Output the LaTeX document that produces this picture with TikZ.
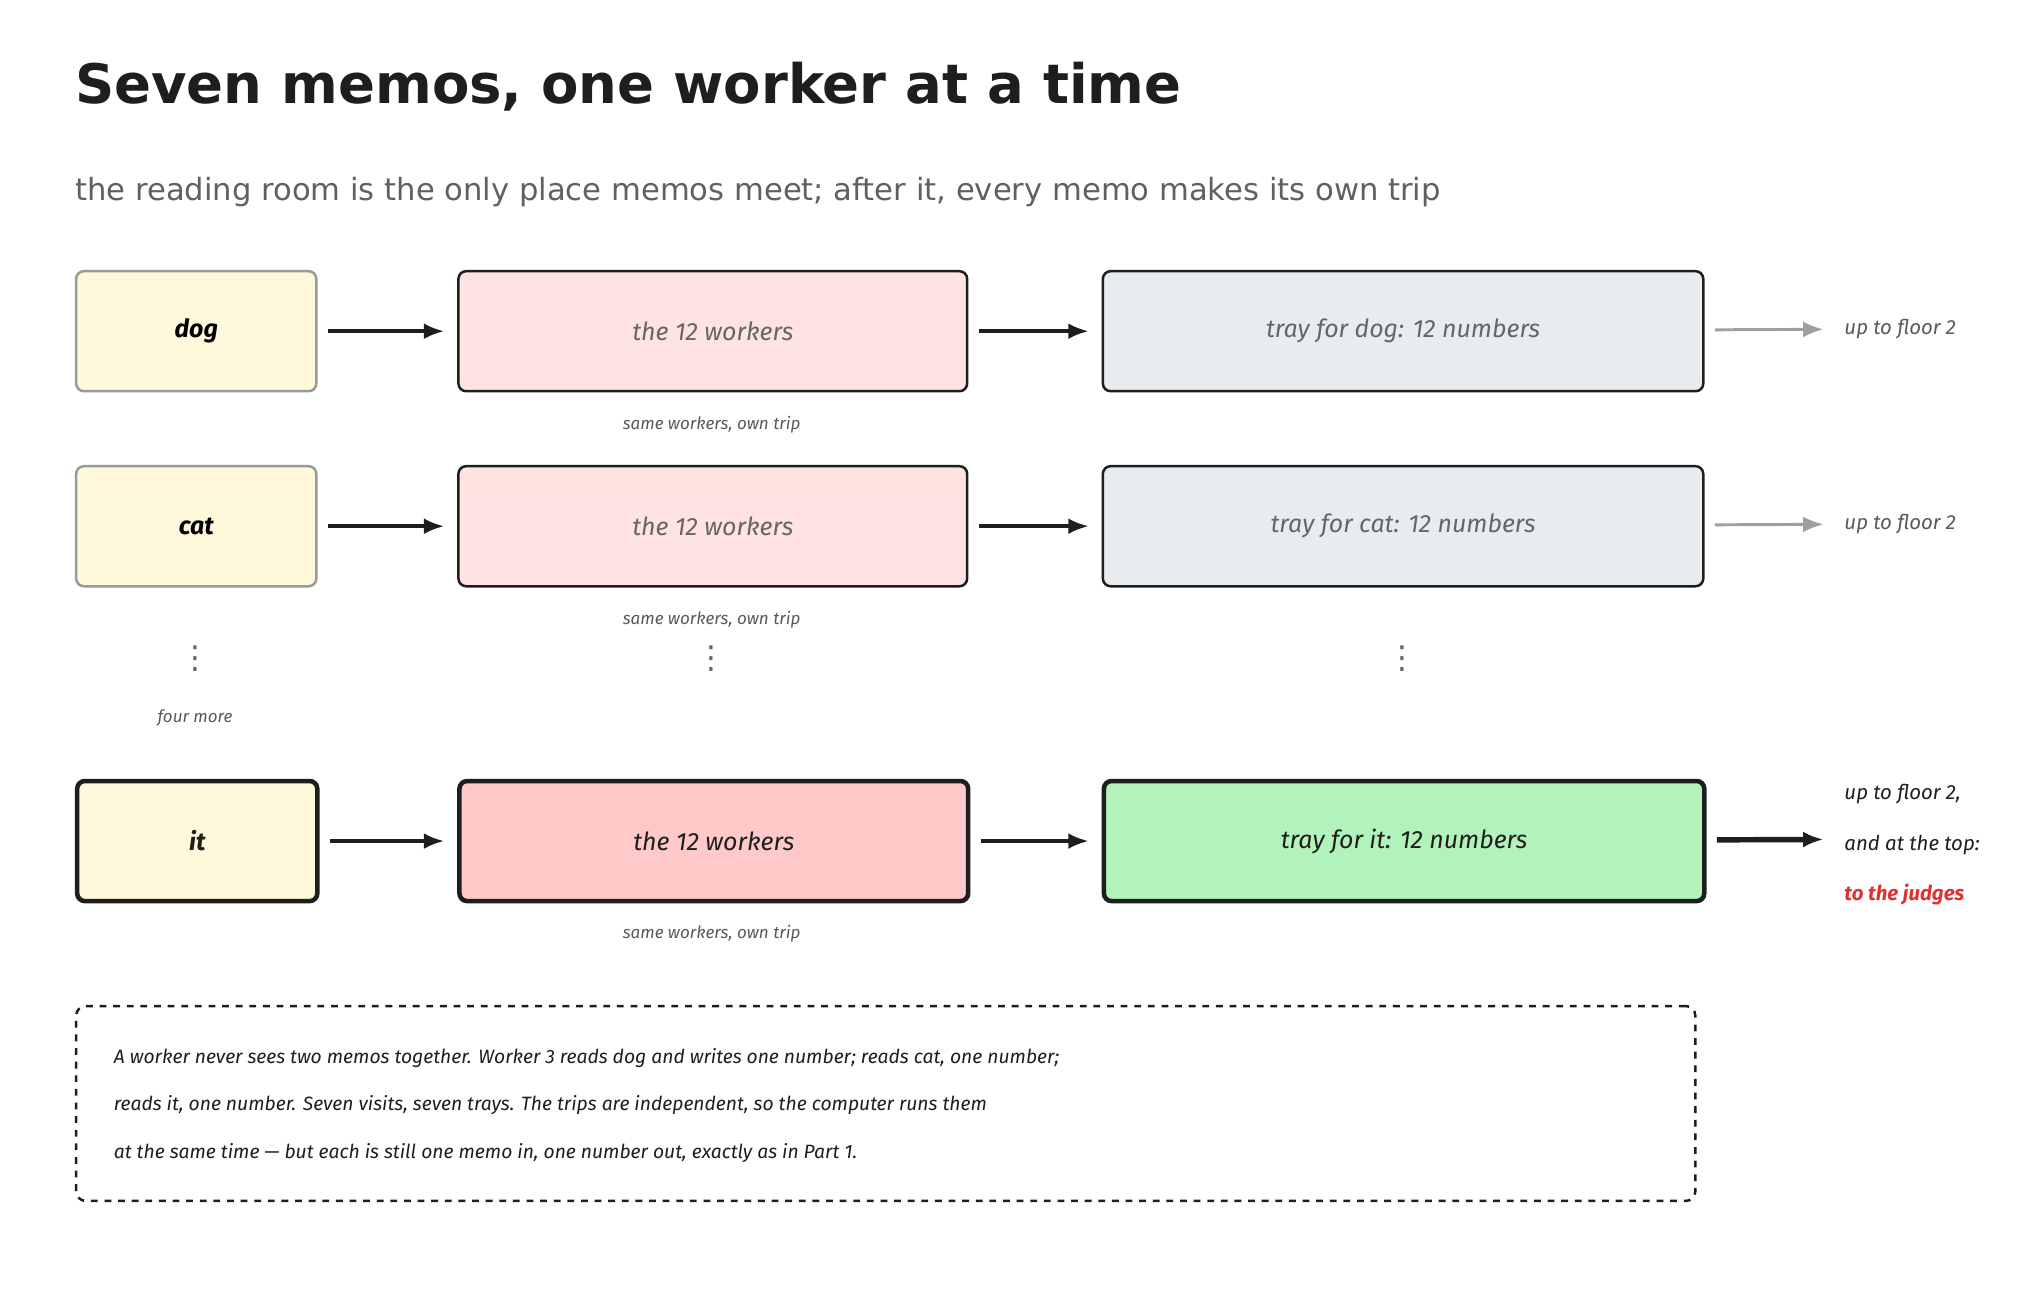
\documentclass[tikz,border=0pt]{standalone}
\usepackage{fontspec}
\setmainfont{DejaVu Sans}
\newfontfamily\handfont{Fira Sans}
\usetikzlibrary{arrows.meta,positioning}
\definecolor{inkC}{HTML}{1E1E1E}
\definecolor{memoC}{HTML}{FFF9DB}
\definecolor{workC}{HTML}{FFE3E3}
\definecolor{workD}{HTML}{FFC9C9}
\definecolor{trayC}{HTML}{E9ECEF}
\definecolor{trayD}{HTML}{B2F2BB}
\definecolor{redC}{HTML}{E03131}
\tikzset{
  box/.style={rectangle, rounded corners=0.12cm, draw=inkC, line width=1.1pt, anchor=north west, font=\handfont\itshape\fontsize{11}{13}\selectfont},
  memoBox/.style={box, fill=memoC, draw=gray!80, minimum width=3.72cm, minimum height=1.86cm, font=\handfont\bfseries\itshape\fontsize{11}{13}\selectfont},
  workBox/.style={box, fill=workC, text=gray!80!black, minimum width=7.88cm, minimum height=1.86cm},
  trayBox/.style={box, fill=trayC, text=gray!80!black, minimum width=9.3cm, minimum height=1.86cm},
  last/.style={line width=2pt, text=inkC},
  arrow/.style={line width=1.6pt, draw=inkC, shorten <=0.16cm, shorten >=0.2cm, -{Latex[length=9pt,width=7pt]}},
  arrowG/.style={line width=1.3pt, draw=gray!75, shorten <=0.16cm, -{Latex[length=9pt,width=7pt]}},
  side/.style={anchor=west, font=\handfont\itshape\fontsize{9}{11}\selectfont},
  small/.style={font=\handfont\itshape\fontsize{7.5}{9}\selectfont, text=gray!70!black},
  dots/.style={inner sep=0pt, font=\fontsize{14}{14}\selectfont, text=gray!80!black}
}
\begin{document}
\begin{tikzpicture}[x=0.02cm, y=-0.02cm]
  \useasboundingbox (0,0) rectangle (1568,1000);
  \node[anchor=base west, inner sep=0pt, font=\bfseries\fontsize{24}{28}\selectfont, text=inkC] (title) at (58,80) {Seven memos, one worker at a time};
  \node[anchor=base west, inner sep=0pt, font=\fontsize{13.5}{16}\selectfont, text=gray!75!black] (sub) at (58,155) {the reading room is the only place memos meet; after it, every memo makes its own trip};

  % row dog
  \node (dog) [memoBox] at (58,209) {dog};
  \node (w1) [workBox] at (354,209) {the 12 workers};
  \node (t1) [trayBox] at (853,209) {tray for dog: 12 numbers};
  \coordinate (e1) at (1412,255);
  \node (u1) [side, text=gray!70!black] at (1422,255) {up to floor 2};
  \draw [arrow] (dog) -- (w1);
  \draw [arrow] (w1) -- (t1);
  \draw [arrowG] (t1) -- (e1);
  \node (s1) [small] at (551,329) {same workers, own trip};

  % row cat
  \node (cat) [memoBox] at (58,360) {cat};
  \node (w2) [workBox] at (354,360) {the 12 workers};
  \node (t2) [trayBox] at (853,360) {tray for cat: 12 numbers};
  \coordinate (e2) at (1412,406);
  \node (u2) [side, text=gray!70!black] at (1422,406) {up to floor 2};
  \draw [arrow] (cat) -- (w2);
  \draw [arrow] (w2) -- (t2);
  \draw [arrowG] (t2) -- (e2);
  \node (s2) [small] at (551,480) {same workers, own trip};

  \node (d1) [dots] at (151,510) {⋮};
  \node (d2) [dots] at (551,510) {⋮};
  \node (d3) [dots] at (1086,510) {⋮};
  \node (more) [small] at (151,556) {four more};

  % row it
  \node (it) [memoBox, last, draw=inkC] at (58,603) {it};
  \node (w3) [workBox, last, fill=workD] at (354,603) {the 12 workers};
  \node (t3) [trayBox, last, fill=trayD] at (853,603) {tray for it: 12 numbers};
  \coordinate (e3) at (1412,650);
  \draw [arrow] (it) -- (w3);
  \draw [arrow] (w3) -- (t3);
  \draw [arrow, line width=2.4pt, shorten >=0pt] (t3) -- (e3);
  \node (u3) [side, text=inkC] at (1422,615) {up to floor 2,};
  \node (u4) [side, text=inkC] at (1422,654) {and at the top:};
  \node (u5) [side, text=redC, font=\handfont\bfseries\itshape\fontsize{9}{11}\selectfont] at (1422,693) {to the judges};
  \node (s3) [small] at (551,723) {same workers, own trip};

  % note
  \node (note) [rectangle, rounded corners=0.15cm, draw=inkC, line width=1.1pt, dashed, anchor=north west, minimum width=25.08cm, minimum height=3.02cm] at (58,778) {};
  \node (n1) [anchor=west, font=\handfont\itshape\fontsize{8.5}{10}\selectfont, text=inkC] at (82,819) {A worker never sees two memos together. Worker 3 reads dog and writes one number; reads cat, one number;};
  \node (n2) [anchor=west, font=\handfont\itshape\fontsize{8.5}{10}\selectfont, text=inkC] at (82,856) {reads it, one number. Seven visits, seven trays. The trips are independent, so the computer runs them};
  \node (n3) [anchor=west, font=\handfont\itshape\fontsize{8.5}{10}\selectfont, text=inkC] at (82,893) {at the same time — but each is still one memo in, one number out, exactly as in Part 1.};
\end{tikzpicture}
\end{document}
